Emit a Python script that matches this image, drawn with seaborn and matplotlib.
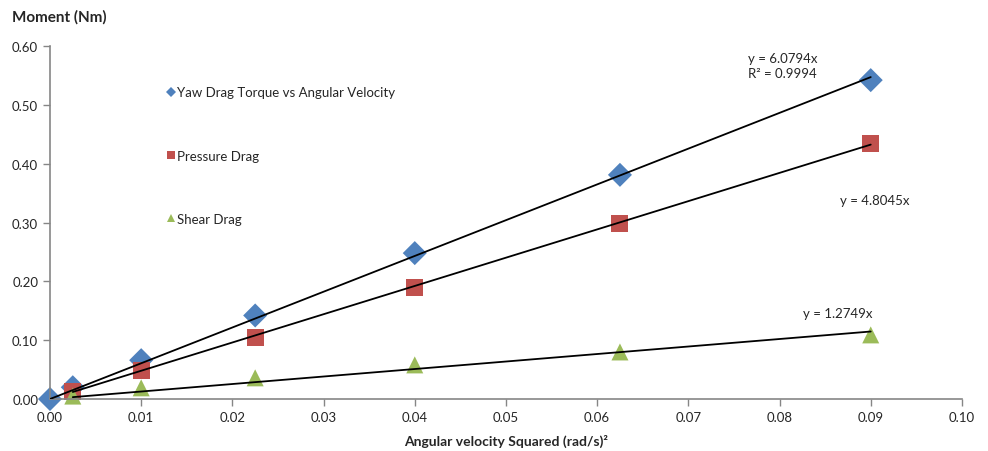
import matplotlib
matplotlib.use("Agg")
import matplotlib.pyplot as plt
import numpy as np
import pandas as pd
import seaborn as sns

# data
omega_sq = [0.0, 0.0025, 0.01, 0.0225, 0.04, 0.0625, 0.09]
yaw = [0.0, 0.020, 0.066, 0.142, 0.248, 0.381, 0.542]
pressure_x = [0.0025, 0.01, 0.0225, 0.04, 0.0625, 0.09]
pressure = [0.012, 0.049, 0.105, 0.190, 0.299, 0.434]
shear_x = [0.0025, 0.01, 0.0225, 0.04, 0.0625, 0.09]
shear = [0.005, 0.019, 0.036, 0.058, 0.080, 0.109]

series_names = ["Yaw Drag Torque vs Angular Velocity", "Pressure Drag", "Shear Drag"]
slopes = [6.0794, 4.8045, 1.2749]
colors = ["#4F81BD", "#C0504D", "#9BBB59"]
markers = ["D", "s", "^"]

df = pd.concat([
    pd.DataFrame({"x": omega_sq, "y": yaw, "series": series_names[0]}),
    pd.DataFrame({"x": pressure_x, "y": pressure, "series": series_names[1]}),
    pd.DataFrame({"x": shear_x, "y": shear, "series": series_names[2]}),
])

sns.set_style("white")
plt.rcParams["font.family"] = ["Lato", "DejaVu Sans"]

fig = plt.figure(figsize=(9.88, 4.52), dpi=100)
ax = fig.add_axes([0.0506, 0.115, 0.923, 0.781])

sns.scatterplot(data=df, x="x", y="y", hue="series", style="series",
                palette=dict(zip(series_names, colors)),
                markers=dict(zip(series_names, markers)),
                s=150, linewidth=0, ax=ax, zorder=2, clip_on=False)

# trend lines through the origin
for xs, k in zip([omega_sq, pressure_x, shear_x], slopes):
    xx = np.array([xs[0], xs[-1]])
    ax.plot(xx, k * xx, color="black", lw=1.3, zorder=3)

ax.text(0.0765, 0.567, "y = 6.0794x\nR² = 0.9994", fontsize=9.5, va="center", linespacing=1.3)
ax.text(0.0866, 0.339, "y = 4.8045x", fontsize=9.5, va="center")
ax.text(0.0826, 0.146, "y = 1.2749x", fontsize=9.5, va="center")

ax.set_xlim(0, 0.10)
ax.set_ylim(0, 0.60)
ax.set_xticks(np.arange(0, 0.101, 0.01))
ax.set_yticks(np.arange(0, 0.61, 0.10))
ax.xaxis.set_major_formatter(matplotlib.ticker.FormatStrFormatter("%.2f"))
ax.yaxis.set_major_formatter(matplotlib.ticker.FormatStrFormatter("%.2f"))
ax.tick_params(axis="both", labelsize=9.5, direction="out", length=5,
               color="#868686", width=1, bottom=True, left=True)
for side in ["top", "right"]:
    ax.spines[side].set_visible(False)
for side in ["left", "bottom"]:
    ax.spines[side].set_color("#868686")
    ax.spines[side].set_linewidth(1.2)

ax.set_xlabel("Angular velocity Squared (rad/s)²", fontsize=10, fontweight="bold", labelpad=8)
ax.set_ylabel("")
fig.text(0.012, 0.962, "Moment (Nm)", fontsize=11, fontweight="bold", va="center")

leg = ax.legend(loc="upper left", bbox_to_anchor=(0.112, 0.92), frameon=False,
                fontsize=9.5, labelspacing=3.9, handletextpad=0.0, markerscale=0.45,
                handlelength=1.0)
leg.set_zorder(1)

fig.savefig("out.png", dpi=100)
